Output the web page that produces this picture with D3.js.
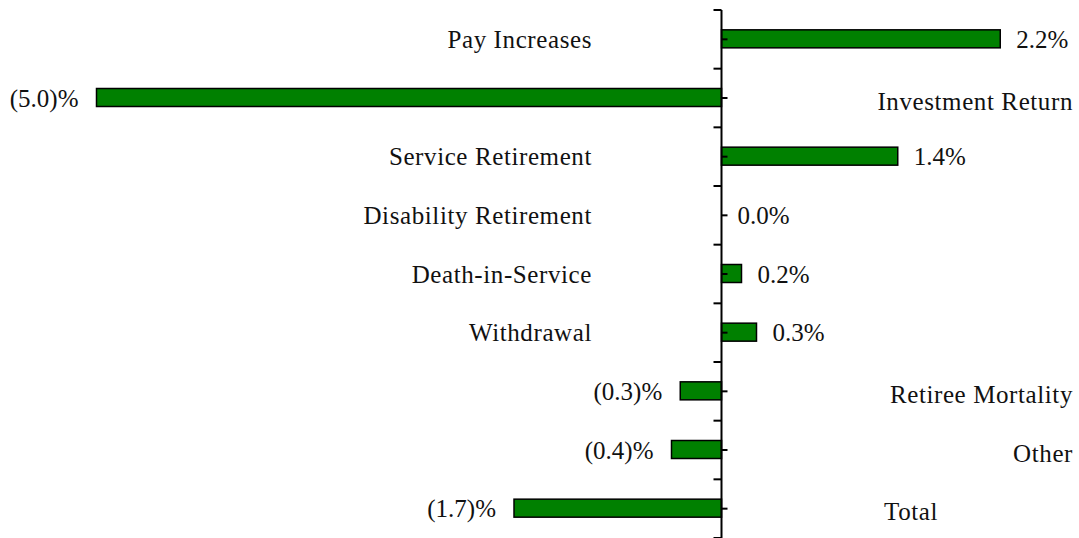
<!DOCTYPE html>
<html>
<head>
<meta charset="utf-8">
<script src="https://cdn.jsdelivr.net/npm/d3@7"></script>
<style>
  body { margin: 0; background: #fff; }
  svg text { font-family: "Liberation Serif", "Times New Roman", serif; fill: #111; }
</style>
</head>
<body>
<div id="chart"></div>
<script>
// categories, top to bottom
const categories = [
  "Pay Increases",
  "Investment Return",
  "Service Retirement",
  "Disability Retirement",
  "Death-in-Service",
  "Withdrawal",
  "Retiree Mortality",
  "Other",
  "Total"
];
// gain / (loss) as % of pay
const values = [2.23, -5.0, 1.41, 0.0, 0.16, 0.28, -0.33, -0.40, -1.66];
// printed labels
const valueLabels = ["2.2%", "(5.0)%", "1.4%", "0.0%", "0.2%", "0.3%", "(0.3)%", "(0.4)%", "(1.7)%"];

const width = 1079, height = 538;

const svg = d3.select("#chart").append("svg")
  .attr("width", width)
  .attr("height", height);

const x = d3.scaleLinear().domain([-5, 2.8]).range([96.5, 1071.5]);
const y = d3.scaleBand().domain(categories).range([10, 538]).paddingInner(0).paddingOuter(0);
const barH = 18;
const x0 = x(0);

// bars
svg.selectAll("rect.bar")
  .data(values)
  .enter()
  .append("rect")
  .attr("class", "bar")
  .attr("x", d => Math.min(x(d), x0))
  .attr("y", (d, i) => y(categories[i]) + y.bandwidth() / 2 - barH / 2 - 0.5)
  .attr("width", d => Math.abs(x(d) - x0))
  .attr("height", barH)
  .attr("fill", "#008000")
  .attr("stroke", d => d === 0 ? "none" : "#000")
  .attr("stroke-width", 1.5);

// axis line + ticks
const ax = svg.append("g");
ax.append("line")
  .attr("x1", x0).attr("x2", x0)
  .attr("y1", 10).attr("y2", 538)
  .attr("stroke", "#000").attr("stroke-width", 2);

const bounds = categories.map(c => y(c)).concat([538]);
ax.selectAll("line.major")
  .data(bounds)
  .enter()
  .append("line")
  .attr("class", "major")
  .attr("x1", x0 - 8).attr("x2", x0)
  .attr("y1", d => d).attr("y2", d => d)
  .attr("stroke", "#000").attr("stroke-width", 2);

ax.selectAll("line.minor")
  .data(categories)
  .enter()
  .append("line")
  .attr("class", "minor")
  .attr("x1", x0).attr("x2", x0 + 6)
  .attr("y1", d => y(d) + y.bandwidth() / 2)
  .attr("y2", d => y(d) + y.bandwidth() / 2)
  .attr("stroke", "#000").attr("stroke-width", 2);

const fs = 25;

// value labels next to bar ends
svg.selectAll("text.val")
  .data(values)
  .enter()
  .append("text")
  .attr("class", "val")
  .attr("x", d => d >= 0 ? x(d) + 16 : x(d) - 18)
  .attr("y", (d, i) => y(categories[i]) + y.bandwidth() / 2)
  .attr("dy", "0.35em")
  .attr("text-anchor", d => d >= 0 ? "start" : "end")
  .style("font-size", fs + "px")
  .text((d, i) => valueLabels[i]);

// category labels on the opposite side of the axis
svg.selectAll("text.cat")
  .data(categories)
  .enter()
  .append("text")
  .attr("class", "cat")
  .attr("x", (d, i) => {
    if (values[i] >= 0) return 592;
    if (d === "Total") return 884;
    return 1073;
  })
  .attr("y", (d, i) => y(d) + y.bandwidth() / 2 + (values[i] < 0 ? 3 : 0))
  .attr("dy", "0.35em")
  .attr("text-anchor", (d, i) => {
    if (values[i] >= 0) return "end";
    return d === "Total" ? "start" : "end";
  })
  .style("font-size", fs + "px")
  .style("letter-spacing", "0.6px")
  .text(d => d);
</script>
</body>
</html>
